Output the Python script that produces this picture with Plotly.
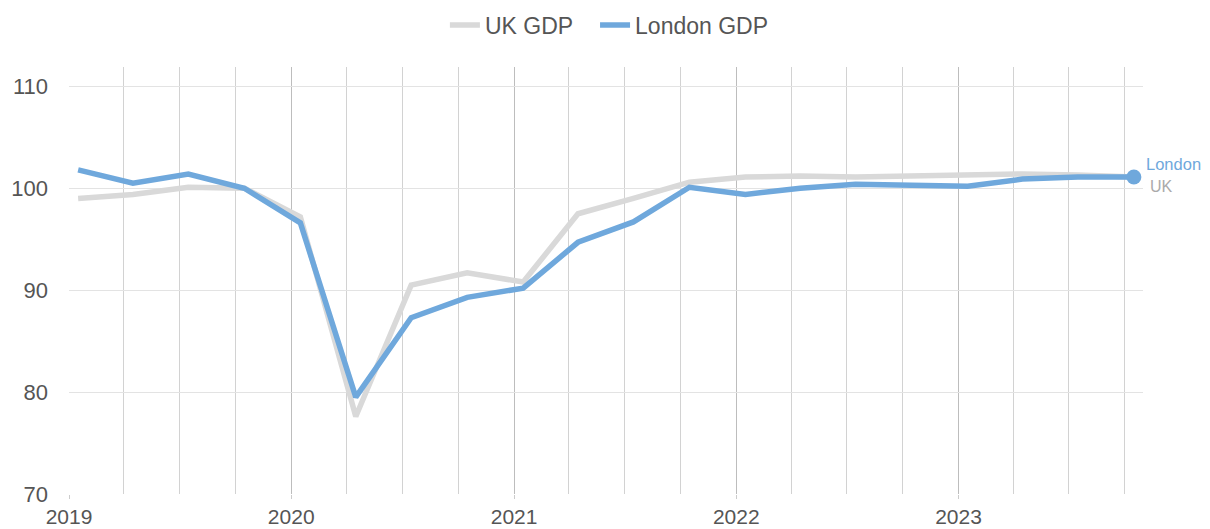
import plotly.graph_objects as go

# Quarterly observation dates (2019 Q1 - 2023 Q4)
quarters = [
    "2019-01-16", "2019-04-16", "2019-07-16", "2019-10-16",
    "2020-01-16", "2020-04-16", "2020-07-16", "2020-10-16",
    "2021-01-16", "2021-04-16", "2021-07-16", "2021-10-16",
    "2022-01-16", "2022-04-16", "2022-07-16", "2022-10-16",
    "2023-01-16", "2023-04-16", "2023-07-16", "2023-10-16",
]

uk_gdp = [
    99.0, 99.4, 100.1, 100.0,
    97.2, 77.6, 90.5, 91.7,
    90.8, 97.5, 99.0, 100.6,
    101.1, 101.2, 101.1, 101.2,
    101.4, 101.4, 101.3, 101.1,
]

london_gdp = [
    101.8, 100.5, 101.4, 100.0,
    96.6, 79.5, 87.3, 89.3,
    90.2, 94.7, 96.7, 100.1,
    99.4, 100.0, 100.4, 100.3,
    100.2, 100.9, 101.1, 101.1,
]

y_ticks = [70, 80, 90, 100, 110]

UK_COLOR = "#d9d9d9"
LONDON_COLOR = "#6fa8dc"
FONT = "Arial, 'Liberation Sans', sans-serif"
TEXT_COLOR = "#555555"

fig = go.Figure()

fig.add_trace(go.Scatter(
    x=quarters, y=uk_gdp, name="UK GDP", mode="lines",
    line=dict(color=UK_COLOR, width=5.5), legend="legend",
))
fig.add_trace(go.Scatter(
    x=quarters, y=london_gdp, name="London GDP", mode="lines",
    line=dict(color=LONDON_COLOR, width=5.5), legend="legend2",
))
# Highlight the latest London reading
fig.add_trace(go.Scatter(
    x=[quarters[-1]], y=[london_gdp[-1]], mode="markers",
    marker=dict(color=LONDON_COLOR, size=15),
    showlegend=False, hoverinfo="skip",
))

# End-of-line labels
fig.add_annotation(
    x=quarters[-1], y=london_gdp[-1], text="London", showarrow=False,
    xanchor="left", xshift=10, yshift=13,
    font=dict(family=FONT, size=16.5, color=LONDON_COLOR),
)
fig.add_annotation(
    x=quarters[-1], y=uk_gdp[-1], text="UK", showarrow=False,
    xanchor="left", xshift=14, yshift=-9,
    font=dict(family=FONT, size=16, color="#aaaaaa"),
)

legend_style = dict(
    orientation="h", xanchor="left", y=1.098, yanchor="middle",
    font=dict(family=FONT, size=23, color=TEXT_COLOR),
    itemwidth=30, bgcolor="rgba(0,0,0,0)",
)

fig.update_layout(
    width=1210, height=529,
    margin=dict(l=69, r=67, t=67, b=35, autoexpand=False),
    paper_bgcolor="white", plot_bgcolor="white",
    font=dict(family=FONT, size=22, color=TEXT_COLOR),
    legend=dict(x=0.350, **legend_style),
    legend2=dict(x=0.4898, **legend_style),
    showlegend=True,
)

fig.update_xaxes(
    type="date",
    range=["2019-01-01", "2023-10-31"],
    dtick="M12", tick0="2019-01-01", tickformat="%Y",
    showgrid=True, gridcolor="#bdbdbd", gridwidth=1,
    ticks="outside", ticklen=4, tickcolor="#cccccc",
    minor=dict(dtick="M3", tick0="2019-01-01", showgrid=True,
               gridcolor="#d2d2d2", gridwidth=1),
    showline=False, zeroline=False,
    tickfont=dict(family=FONT, size=21, color=TEXT_COLOR),
)

fig.update_yaxes(
    range=[70, 111.9],
    tickvals=y_ticks,
    showgrid=True, gridcolor="#e3e3e3", gridwidth=1,
    showline=False, zeroline=False,
    ticks="", ticklabelstandoff=20,
    tickfont=dict(family=FONT, size=22, color=TEXT_COLOR),
)

fig.write_html("out.html")
